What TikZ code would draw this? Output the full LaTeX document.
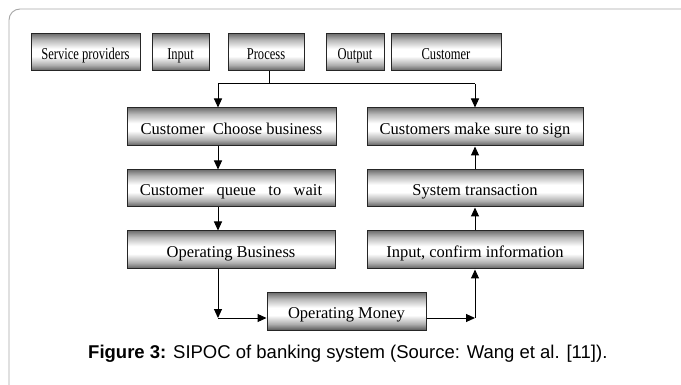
\documentclass[tikz,border=0pt]{standalone}
\usepackage{fontspec}
\setmainfont{Liberation Serif}
\newfontfamily\capfont{Liberation Sans}
\usetikzlibrary{arrows.meta}
\pgfdeclareverticalshading{boxshade}{100bp}{color(0bp)=(black!65); color(25bp)=(black!65); color(33bp)=(black!32); color(45bp)=(white); color(55bp)=(white); color(67bp)=(black!28); color(75bp)=(black!55); color(100bp)=(black!55)}
\tikzset{
  box/.style={draw=black!85, line width=1pt, shading=boxshade, inner sep=0pt, text height=14.5pt, text depth=0pt, font=\fontsize{16.5}{18}\selectfont},
  conn/.style={line width=1pt, black},
  arr/.style={conn, -{Triangle[length=9pt,width=8pt]}},
  frame/.style={draw=black!35, line width=0.9pt}
}
\newcommand{\squeeze}[1]{\scalebox{0.76}[1]{#1}}
\begin{document}
\begin{tikzpicture}[x=1pt,y=-1pt]
\useasboundingbox (0,0) rectangle (681,385);
\draw[frame, rounded corners=11pt] (9,386) -- (9,9) -- (682,9);
% top row
\node[box, minimum width=109pt, minimum height=37pt] (sp) at (85.5,52.5) {\squeeze{Service providers}};
\node[box, minimum width=57pt, minimum height=37pt] (in) at (180.5,52.5) {\squeeze{Input}};
\node[box, minimum width=76pt, minimum height=37pt] (pr) at (266,52.5) {\squeeze{Process}};
\node[box, minimum width=58pt, minimum height=37pt] (out) at (355,52.5) {\squeeze{Output}};
\node[box, minimum width=110pt, minimum height=37pt] (cu) at (446,52.5) {\squeeze{Customer}};
% left column
\node[box, minimum width=209pt, minimum height=38pt] (l1) at (231.5,127) {Customer\hspace{8pt}Choose business};
\node[box, minimum width=208pt, minimum height=37pt] (l2) at (231,188.5) {Customer\hspace{12.5pt}queue\hspace{12.5pt}to\hspace{12.5pt}wait};
\node[box, minimum width=208pt, minimum height=38pt] (l3) at (231,250) {Operating Business};
% right column
\node[box, minimum width=216pt, minimum height=38pt] (r1) at (475,127) {Customers make sure to sign};
\node[box, minimum width=216pt, minimum height=37pt] (r2) at (475,188.5) {System transaction};
\node[box, minimum width=216pt, minimum height=38pt] (r3) at (475,250) {Input, confirm information};
% bottom
\node[box, minimum width=159pt, minimum height=37pt] (mo) at (346.5,311.5) {Operating Money};
% connectors
\coordinate (split) at (269,84);
\coordinate (sl) at (218,84);
\coordinate (sr) at (475,84);
\draw[conn] (pr.south -| split) -- (split);
\draw[conn] (sl) -- (sr);
\draw[arr] (sl) -- (sl |- l1.north);
\draw[arr] (sr) -- (sr |- r1.north);
\draw[arr] (sl |- l1.south) -- (sl |- l2.north);
\draw[arr] (sl |- l2.south) -- (sl |- l3.north);
\draw[arr] (sr |- r3.north) -- (sr |- r2.south);
\draw[arr] (sr |- r2.north) -- (sr |- r1.south);
\coordinate (bl) at (218,318);
\coordinate (br) at (475,318);
\draw[arr] (sl |- l3.south) -- (bl);
\draw[arr] (bl) -- (bl -| mo.west);
\draw[arr] (br -| mo.east) -- (br);
\draw[arr] (br) -- (sr |- r3.south);
% caption
\node[anchor=west, inner sep=0pt, font=\capfont\fontsize{18.5}{20}\selectfont] (cap) at (88,354) {\textbf{Figure 3:} SIPOC of banking system (Source: Wang et al. [11]).};
\end{tikzpicture}
\end{document}
